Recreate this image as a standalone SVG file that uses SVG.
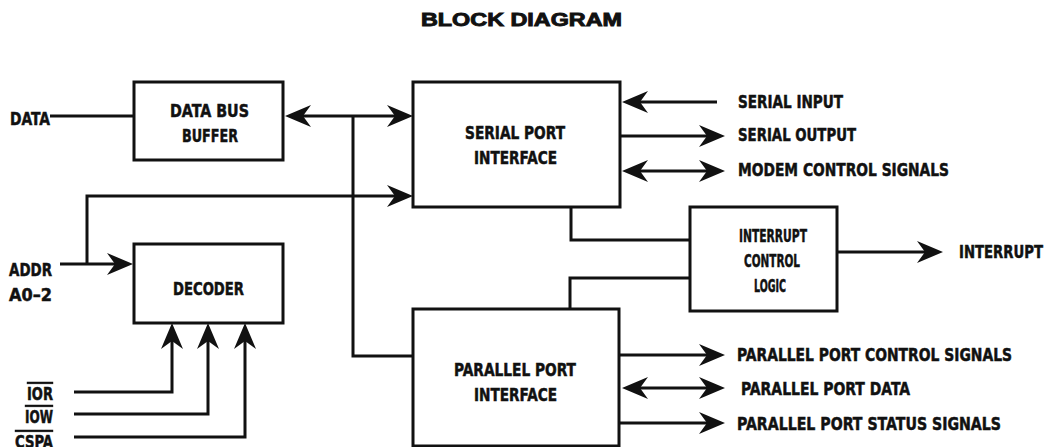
<svg xmlns="http://www.w3.org/2000/svg" width="1046" height="447" viewBox="0 0 1046 447">
<style>
.box{fill:#fff;stroke:#111;stroke-width:3}
.ln{fill:none;stroke:#111;stroke-width:3}
.ar{marker-end:url(#ah)}
.ar2{marker-start:url(#ah);marker-end:url(#ah)}
text{font-family:"DejaVu Sans Condensed","DejaVu Sans",sans-serif;font-stretch:condensed;font-weight:bold;font-size:18.5px;fill:#111;stroke:#111;stroke-width:0.5}
.title{font-family:"Liberation Sans",Arial,sans-serif;font-stretch:normal;font-size:18px;stroke-width:0.9}
.ov{text-decoration:overline}
</style>
<defs>
<marker id="ah" markerUnits="userSpaceOnUse" markerWidth="30" markerHeight="24" viewBox="0 -12 30 24" refX="8" refY="0" orient="auto-start-reverse">
<path d="M0,-11 L26,0 L0,11 L8,0 Z" fill="#111"/>
</marker>
</defs>
<rect width="1046" height="447" fill="#fff"/>
<text class="title" x="421" y="26" textLength="201" lengthAdjust="spacingAndGlyphs">BLOCK DIAGRAM</text>

<g id="connectors">
<path class="ln" d="M50,116 H134"/>
<path class="ln ar2" d="M303,116 H395"/>
<path class="ln" d="M353,116 V356 H413"/>
<path class="ln ar" d="M87,264 V196 H395"/>
<path class="ln ar" d="M60,264 H115"/>
<path class="ln ar" d="M74,392 H172 V341"/>
<path class="ln ar" d="M74,414 H208 V341"/>
<path class="ln ar" d="M74,437 H245 V341"/>
<path class="ln ar" d="M717,102 H640"/>
<path class="ln ar" d="M620,136 H707"/>
<path class="ln ar2" d="M640,171 H707"/>
<path class="ln" d="M571,207 V240 H690"/>
<path class="ln" d="M570,309 V278 H690"/>
<path class="ln ar" d="M837,252 H925"/>
<path class="ln ar" d="M619,355 H707"/>
<path class="ln ar2" d="M640,388 H707"/>
<path class="ln ar" d="M619,423 H707"/>
</g>

<g id="data-bus-buffer">
<rect class="box" x="134" y="82" width="149" height="78"/>
<text x="170" y="117" textLength="79" lengthAdjust="spacingAndGlyphs">DATA BUS</text>
<text x="182" y="142" textLength="56" lengthAdjust="spacingAndGlyphs">BUFFER</text>
</g>
<g id="serial-port-interface">
<rect class="box" x="413" y="82" width="207" height="125"/>
<text x="465" y="139" textLength="100" lengthAdjust="spacingAndGlyphs">SERIAL PORT</text>
<text x="474" y="164" textLength="83" lengthAdjust="spacingAndGlyphs">INTERFACE</text>
</g>
<g id="decoder">
<rect class="box" x="134" y="244" width="149" height="79"/>
<text x="173" y="295" textLength="71" lengthAdjust="spacingAndGlyphs">DECODER</text>
</g>
<g id="interrupt-control-logic">
<rect class="box" x="690" y="207" width="147" height="104"/>
<text x="739" y="242" textLength="68" lengthAdjust="spacingAndGlyphs">INTERRUPT</text>
<text x="744" y="267" textLength="56" lengthAdjust="spacingAndGlyphs">CONTROL</text>
<text x="754" y="292" textLength="32" lengthAdjust="spacingAndGlyphs">LOGIC</text>
</g>
<g id="parallel-port-interface">
<rect class="box" x="413" y="309" width="206" height="137"/>
<text x="454" y="376" textLength="122" lengthAdjust="spacingAndGlyphs">PARALLEL PORT</text>
<text x="474" y="401" textLength="83" lengthAdjust="spacingAndGlyphs">INTERFACE</text>
</g>

<g id="labels">
<text x="10" y="125" textLength="40" lengthAdjust="spacingAndGlyphs">DATA</text>
<text x="9" y="276" textLength="43" lengthAdjust="spacingAndGlyphs">ADDR</text>
<text x="9" y="301" textLength="43" lengthAdjust="spacingAndGlyphs">A0–2</text>
<text class="ov" x="27" y="400" textLength="26" lengthAdjust="spacingAndGlyphs">IOR</text>
<text class="ov" x="25" y="423" textLength="28" lengthAdjust="spacingAndGlyphs">IOW</text>
<text class="ov" x="15" y="448" textLength="38" lengthAdjust="spacingAndGlyphs">CSPA</text>
<text x="738" y="108" textLength="105" lengthAdjust="spacingAndGlyphs">SERIAL INPUT</text>
<text x="738" y="141" textLength="118" lengthAdjust="spacingAndGlyphs">SERIAL OUTPUT</text>
<text x="738" y="176" textLength="211" lengthAdjust="spacingAndGlyphs">MODEM CONTROL SIGNALS</text>
<text x="959" y="258" textLength="84" lengthAdjust="spacingAndGlyphs">INTERRUPT</text>
<text x="737" y="361" textLength="275" lengthAdjust="spacingAndGlyphs">PARALLEL PORT CONTROL SIGNALS</text>
<text x="741" y="395" textLength="169" lengthAdjust="spacingAndGlyphs">PARALLEL PORT DATA</text>
<text x="737" y="430" textLength="264" lengthAdjust="spacingAndGlyphs">PARALLEL PORT STATUS SIGNALS</text>
</g>
</svg>
